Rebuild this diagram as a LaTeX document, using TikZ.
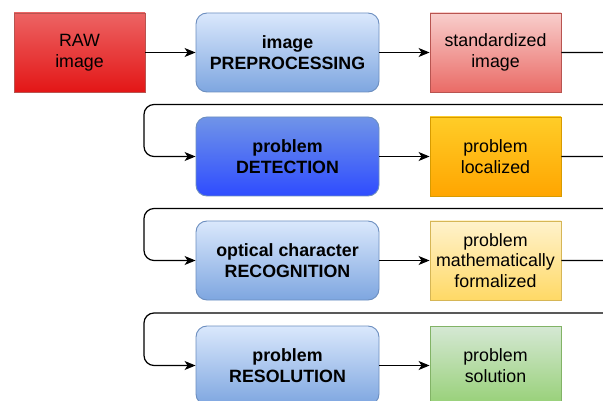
\documentclass[tikz,border=0pt]{standalone}
\usepackage{fontspec}
\setmainfont{Liberation Sans}
\usetikzlibrary{arrows.meta}

% fills and borders
\definecolor{rawtop}{HTML}{EC6464}
\definecolor{rawbot}{HTML}{E31616}
\definecolor{redline}{HTML}{B85450}
\definecolor{stdtop}{HTML}{F8CECC}
\definecolor{stdbot}{HTML}{EA6B66}
\definecolor{bluetop}{HTML}{DAE8FC}
\definecolor{bluebot}{HTML}{7EA6E0}
\definecolor{blueline}{HTML}{6C8EBF}
\definecolor{dettop}{HTML}{7094E8}
\definecolor{detbot}{HTML}{2E4CFF}
\definecolor{orgtop}{HTML}{FFCD28}
\definecolor{orgbot}{HTML}{FFA500}
\definecolor{orgline}{HTML}{D79B00}
\definecolor{yeltop}{HTML}{FFF2CC}
\definecolor{yelbot}{HTML}{FFD966}
\definecolor{yelline}{HTML}{D6B656}
\definecolor{grntop}{HTML}{D5E8D4}
\definecolor{grnbot}{HTML}{97D077}
\definecolor{grnline}{HTML}{82B366}

\tikzset{
  box/.style={minimum width=131pt, minimum height=79pt, line width=0.9pt,
    align=center, font=\fontsize{17.8}{20.5}\selectfont, inner sep=0pt},
  stepbox/.style={box, minimum width=183pt, rounded corners=11pt,
    top color=bluetop, bottom color=bluebot, draw=blueline,
    font=\fontsize{17.8}{20.5}\selectfont\bfseries},
  conn/.style={line width=1.2pt, rounded corners=10pt,
    -{Stealth[length=11pt, width=9pt, inset=3pt]}},
}

\begin{document}
\begin{tikzpicture}[x=1pt, y=-1pt]
\useasboundingbox (0,0) rectangle (603,401);
\clip (0,0) rectangle (603,401);

% row 1
\node[box, top color=rawtop, bottom color=rawbot, draw=redline] (raw) at (79.5,52.5) {RAW\\image};
\node[stepbox] (pre) at (287.5,52.5) {image\\PREPROCESSING};
\node[box, top color=stdtop, bottom color=stdbot, draw=redline] (std) at (495.5,52.5) {standardized\\image};

% row 2
\node[stepbox, top color=dettop, bottom color=detbot] (det) at (287.5,156.5) {problem\\DETECTION};
\node[box, top color=orgtop, bottom color=orgbot, draw=orgline] (loc) at (495.5,156.5) {problem\\localized};

% row 3
\node[stepbox] (ocr) at (287.5,260.5) {optical character\\RECOGNITION};
\node[box, top color=yeltop, bottom color=yelbot, draw=yelline] (frm) at (495.5,260.5) {problem\\mathematically\\formalized};

% row 4
\node[stepbox] (res) at (287.5,365.5) {problem\\RESOLUTION};
\node[box, top color=grntop, bottom color=grnbot, draw=grnline] (sol) at (495.5,365.5) {problem\\solution};

% return lanes between rows
\coordinate (lane1) at (144,104.5);
\coordinate (lane2) at (144,208.5);
\coordinate (lane3) at (144,313);

% connectors
\draw[conn] (raw) -- (pre);
\draw[conn] (pre) -- (std);
\draw[conn] (std.east) -- ++(62,0) |- (lane1) |- (det.west);
\draw[conn] (det) -- (loc);
\draw[conn] (loc.east) -- ++(62,0) |- (lane2) |- (ocr.west);
\draw[conn] (ocr) -- (frm);
\draw[conn] (frm.east) -- ++(62,0) |- (lane3) |- (res.west);
\draw[conn] (res) -- (sol);
\end{tikzpicture}
\end{document}
